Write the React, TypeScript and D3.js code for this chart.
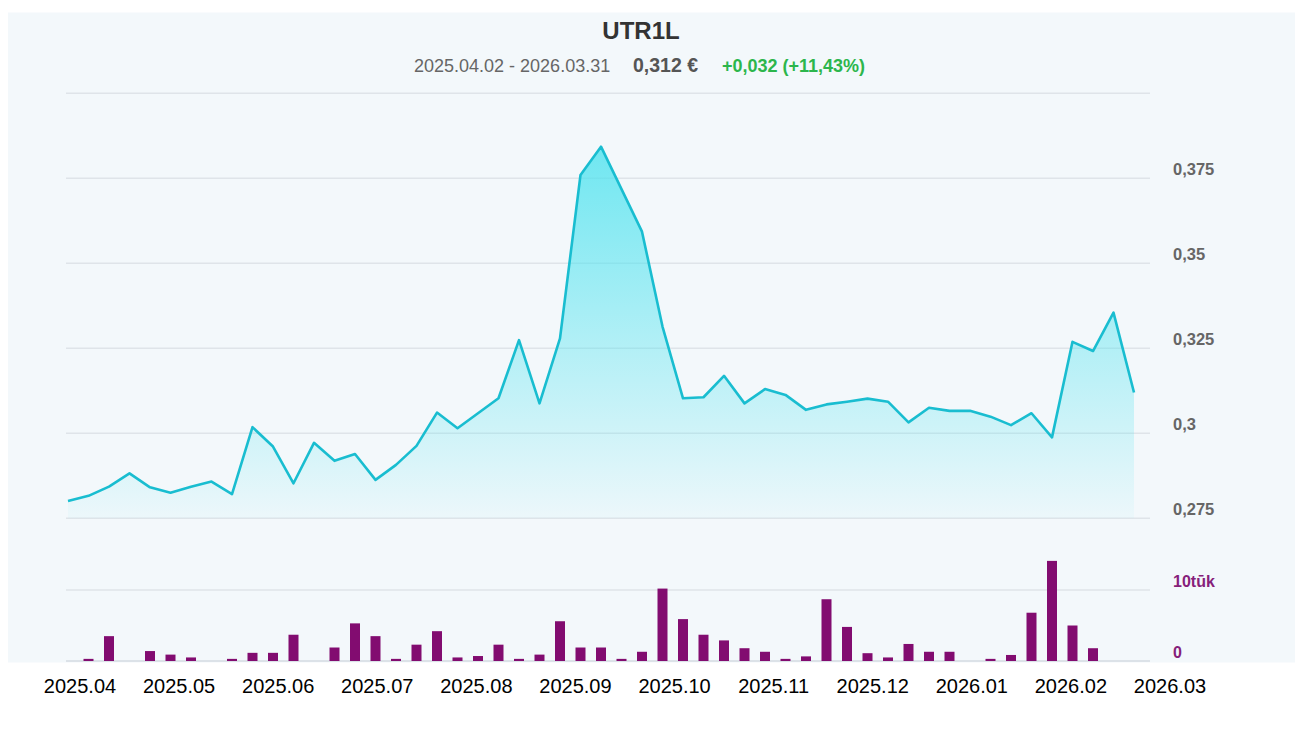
import React from "react";
import * as d3 from "d3";

const title = "UTR1L";
const periodText = "2025.04.02 - 2026.03.31";
const lastPriceText = "0,312 €";
const changeText = "+0,032 (+11,43%)";

const dates = [
  "2025-04-02", "2025-04-09", "2025-04-16", "2025-04-23", "2025-04-30",
  "2025-05-07", "2025-05-14", "2025-05-21", "2025-05-28",
  "2025-06-04", "2025-06-11", "2025-06-18", "2025-06-25",
  "2025-07-02", "2025-07-09", "2025-07-16", "2025-07-23", "2025-07-30",
  "2025-08-06", "2025-08-13", "2025-08-20", "2025-08-27",
  "2025-09-03", "2025-09-10", "2025-09-17", "2025-09-24",
  "2025-10-01", "2025-10-08", "2025-10-15", "2025-10-22", "2025-10-29",
  "2025-11-05", "2025-11-12", "2025-11-19", "2025-11-26",
  "2025-12-03", "2025-12-10", "2025-12-17", "2025-12-24", "2025-12-31",
  "2026-01-07", "2026-01-14", "2026-01-21", "2026-01-28",
  "2026-02-04", "2026-02-11", "2026-02-18", "2026-02-25",
  "2026-03-04", "2026-03-11", "2026-03-18", "2026-03-25", "2026-03-31",
];

const prices = [
  0.2801, 0.2816, 0.2843, 0.2882, 0.2841, 0.2825, 0.2843, 0.2858, 0.2821,
  0.3018, 0.2961, 0.2853, 0.2972, 0.2919, 0.2939, 0.2863, 0.2907, 0.2963,
  0.3061, 0.3015, 0.3059, 0.3103, 0.3274, 0.3088, 0.3279, 0.376, 0.3843,
  0.3718, 0.3593, 0.3314, 0.3103, 0.3106, 0.3169, 0.3088, 0.313, 0.3113,
  0.3069, 0.3085, 0.3093, 0.3102, 0.3093, 0.3032, 0.3075, 0.3066, 0.3066,
  0.3049, 0.3024, 0.3059, 0.2988, 0.3269, 0.3242, 0.3355, 0.312,
];

// volume in thousands
const volumes = [
  0, 0.3, 3.5, 0, 1.4, 0.9, 0.5, 0, 0.3, 1.15, 1.15, 3.7, 0, 1.9, 5.3, 3.5,
  0.3, 2.3, 4.2, 0.5, 0.7, 2.3, 0.3, 0.9, 5.6, 1.9, 1.9, 0.3, 1.3, 10.2, 5.9,
  3.7, 2.9, 1.8, 1.3, 0.3, 0.65, 8.7, 4.8, 1.1, 0.5, 2.4, 1.3, 1.3, 0, 0.3,
  0.85, 6.8, 14.1, 5.0, 1.8, 0, 0,
];

const monthLabels = [
  "2025.04", "2025.05", "2025.06", "2025.07", "2025.08", "2025.09",
  "2025.10", "2025.11", "2025.12", "2026.01", "2026.02", "2026.03",
];

const priceGridTicks = [0.275, 0.3, 0.325, 0.35, 0.375, 0.4];
const priceLabelTicks = [0.275, 0.3, 0.325, 0.35, 0.375];
const volumeTicks = [0, 10];
const volumeTickLabels = ["0", "10tūk"];

const FONT = "'Liberation Sans', Arial, sans-serif";

export default function App() {
  const W = 1300;
  const H = 731;
  const gridX0 = 66;
  const gridX1 = 1150;

  const x = d3.scalePoint<string>().domain(dates).range([68, 1134]);
  const yP = d3.scaleLinear().domain([0.275, 0.4]).range([518.3, 93.3]);
  const yV = d3.scaleLinear().domain([0, 10]).range([661, 590]);
  const xm = d3.scalePoint<string>().domain(monthLabels).range([80, 1170]);

  const data = dates.map((d, i) => ({ d, p: prices[i], v: volumes[i] }));

  const line = d3
    .line<any>()
    .x((r) => x(r.d) as number)
    .y((r) => yP(r.p));
  const area = d3
    .area<any>()
    .x((r) => x(r.d) as number)
    .y0(yP(0.275))
    .y1((r) => yP(r.p));

  const fmtP = (v: number) => String(+v.toFixed(3)).replace(".", ",");
  const barW = 10;

  return (
    <svg
      width={W}
      height={H}
      style={{ position: "absolute", left: 0, top: 0, display: "block" }}
      fontFamily={FONT}
    >
      <defs>
        <linearGradient id="areaGrad" x1="0" y1="0" x2="0" y2="1">
          <stop offset="0%" stopColor="#4ae2ee" stopOpacity={0.78} />
          <stop offset="100%" stopColor="#4ae2ee" stopOpacity={0.04} />
        </linearGradient>
      </defs>
      <rect x={0} y={0} width={W} height={H} fill="#ffffff" />
      <rect x={8} y={12.5} width={1287} height={650} fill="#f3f8fb" />

      <text x={641} y={39} textAnchor="middle" fontSize={24} fontWeight="bold" fill="#333">
        {title}
      </text>
      <text x={414} y={72} fontSize={18} fill="#666">
        {periodText}
      </text>
      <text x={633} y={72} fontSize={19.5} fontWeight="bold" fill="#555">
        {lastPriceText}
      </text>
      <text x={722} y={72} fontSize={18} fontWeight="bold" fill="#2cb64c">
        {changeText}
      </text>

      {priceGridTicks.map((t) => (
        <line
          key={"pg" + t}
          x1={gridX0}
          x2={gridX1}
          y1={yP(t)}
          y2={yP(t)}
          stroke="#dfe4e9"
          strokeWidth={1.5}
        />
      ))}
      {priceLabelTicks.map((t) => (
        <text key={"pl" + t} x={1173} y={yP(t) - 3} fontSize={16.5} fontWeight="bold" fill="#666">
          {fmtP(t)}
        </text>
      ))}

      {volumeTicks.map((t, i) => (
        <g key={"vg" + t}>
          <line
            x1={gridX0}
            x2={gridX1}
            y1={yV(t)}
            y2={yV(t)}
            stroke={t === 0 ? "#d4dbe2" : "#dfe4e9"}
            strokeWidth={1.5}
          />
          <text x={1173} y={yV(t) - 3.5} fontSize={16} fontWeight="bold" fill="#86207a">
            {volumeTickLabels[i]}
          </text>
        </g>
      ))}

      <path d={area(data) || ""} fill="url(#areaGrad)" />
      <path d={line(data) || ""} fill="none" stroke="#19bdd0" strokeWidth={2.6} strokeLinejoin="round" />

      {data
        .filter((r) => r.v > 0)
        .map((r) => (
          <rect
            key={"b" + r.d}
            x={(x(r.d) as number) - barW / 2}
            y={yV(r.v)}
            width={barW}
            height={yV(0) - yV(r.v)}
            fill="#820c70"
          />
        ))}

      {monthLabels.map((m) => (
        <text key={m} x={xm(m)} y={693} textAnchor="middle" fontSize={20} fill="#000">
          {m}
        </text>
      ))}
    </svg>
  );
}
